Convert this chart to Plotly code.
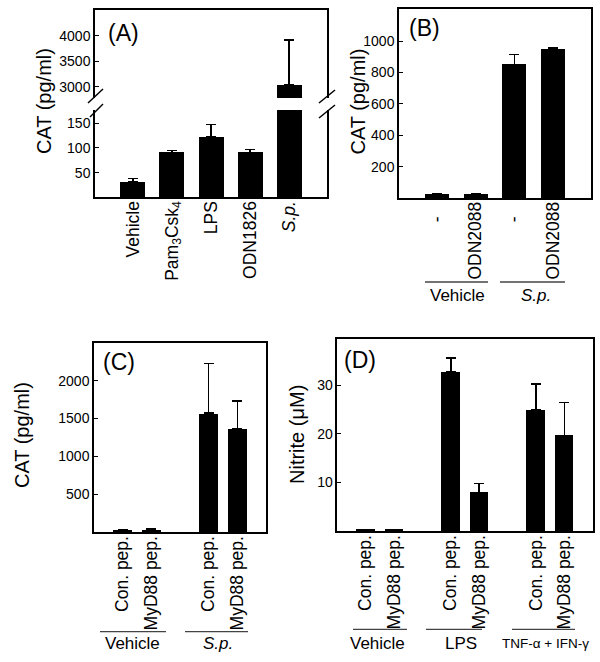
import plotly.graph_objects as go

# ---------------- data ----------------
a_labels = ["Vehicle", "Pam<sub>3</sub>Csk<sub>4</sub>", "LPS", "ODN1826", "<i>S.p.</i>"]
a_values = [32, 91, 122, 91, 3033]
a_errtop = [38.5, 94.5, 148, 97, 3920]

b_groups = ["Vehicle", "<i>S.p.</i>"]
b_labels = ["-\u00a0\u00a0\u00a0", "ODN2088", "-\u00a0\u00a0\u00a0", "ODN2088"]
b_values = [25, 25, 850, 948]
b_errtop = [27, 27, 915, 955]

c_groups = ["Vehicle", "<i>S.p.</i>"]
c_labels = ["Con. pep.", "MyD88 pep.", "Con. pep.", "MyD88 pep."]
c_values = [30, 30, 1570, 1372]
c_errtop = [40, 42, 2225, 1730]

d_groups = ["Vehicle", "LPS", "TNF-α + IFN-γ"]
d_labels = ["Con. pep.", "MyD88 pep.", "Con. pep.", "MyD88 pep.", "Con. pep.", "MyD88 pep."]
d_values = [0.3, 0.35, 32.7, 8.0, 24.9, 19.7]
d_errtop = [0.35, 0.4, 35.6, 9.8, 30.2, 26.4]

# ---------------- helpers ----------------
W, H = 600, 662
FONT = "Liberation Sans, Arial, sans-serif"


def px(x):
    return x / W


def py(y):
    return 1 - y / H


def positions(n_groups, per_group, gap=1):
    pos = []
    for g in range(n_groups):
        for i in range(per_group):
            pos.append(g * (per_group + gap) + i)
    return pos


def bar(x, vals, errtop, xa, ya, width):
    return go.Bar(
        x=x, y=vals, xaxis=xa, yaxis=ya, width=width,
        marker=dict(color="black", line=dict(width=0)),
        error_y=dict(type="data", symmetric=False,
                     array=[e - v for e, v in zip(errtop, vals)],
                     arrayminus=[0] * len(vals),
                     color="black", thickness=1.5, width=5),
        showlegend=False, hoverinfo="skip",
    )


fig = go.Figure()

a_x = list(range(len(a_labels)))
b_x = positions(2, 2, gap=0)
c_x = positions(2, 2)
d_x = positions(3, 2)

fig.add_trace(bar(a_x, a_values, a_errtop, "x", "y", 0.64))
fig.add_trace(bar(a_x, a_values, a_errtop, "x2", "y2", 0.64))
fig.add_trace(bar(b_x, b_values, b_errtop, "x3", "y3", 0.62))
fig.add_trace(bar(c_x, c_values, c_errtop, "x4", "y4", 0.65))
fig.add_trace(bar(d_x, d_values, d_errtop, "x5", "y5", 0.65))

axis_line = dict(showline=True, linecolor="black", linewidth=1.5, showgrid=False,
                 zeroline=False)
ytick = dict(ticks="inside", ticklen=4, tickwidth=1, tickcolor="black",
             tickfont=dict(family=FONT, size=14, color="black"))
xtick = dict(ticks="", tickangle=-90, ticklabelstandoff=-5,
             tickfont=dict(family=FONT, size=17.5, color="black"))

A_dom_x = [px(95), px(327)]
fig.update_layout(
    width=W, height=H, margin=dict(l=0, r=0, t=0, b=0),
    plot_bgcolor="white", paper_bgcolor="white", bargap=0,
    font=dict(family=FONT, color="black"),
    xaxis=dict(domain=A_dom_x, range=[-0.97, 4.97], anchor="y",
               tickvals=a_x, ticktext=a_labels, **axis_line, **xtick),
    yaxis=dict(domain=[py(197.3), py(110)], range=[0, 177], anchor="x",
               tickvals=[50, 100, 150], mirror=True, **axis_line, **ytick),
    xaxis2=dict(domain=A_dom_x, range=[-0.97, 4.97], anchor="y2", side="top",
                showticklabels=False, ticks="", matches="x", **axis_line),
    yaxis2=dict(domain=[py(98), py(10)], range=[2777, 4508], anchor="x2",
                tickvals=[3000, 3500, 4000], mirror=True, **axis_line, **ytick),
    xaxis3=dict(domain=[px(399), px(591)], range=[-0.98, 3.98], anchor="y3",
                tickvals=b_x, ticktext=b_labels, mirror=True, **axis_line, **xtick),
    yaxis3=dict(domain=[py(198), py(9.3)], range=[0, 1202], anchor="x3",
                tickvals=[200, 400, 600, 800, 1000], mirror=True, **axis_line, **ytick),
    xaxis4=dict(domain=[px(94), px(266)], range=[-1, 5], anchor="y4",
                tickvals=c_x, ticktext=c_labels, mirror=True, **axis_line, **xtick),
    yaxis4=dict(domain=[py(532.3), py(342.7)], range=[0, 2500], anchor="x4",
                tickvals=[500, 1000, 1500, 2000], mirror=True, **axis_line, **ytick),
    xaxis5=dict(domain=[px(337.3), px(592.7)], range=[-1, 8], anchor="y5",
                tickvals=d_x, ticktext=d_labels, mirror=True, **axis_line, **xtick),
    yaxis5=dict(domain=[py(531.3), py(339.3)], range=[0, 39.4], anchor="x5",
                tickvals=[10, 20, 30], mirror=True, **axis_line, **ytick),
)

ann = []


def text(x, y, s, size, angle=0, xanchor="center"):
    ann.append(dict(x=px(x), y=py(y), xref="paper", yref="paper", text=s,
                    showarrow=False, textangle=angle, xanchor=xanchor, yanchor="middle",
                    font=dict(family=FONT, size=size, color="black")))


# axis titles
text(44, 101, "CAT (pg/ml)", 20, -90)
text(357, 101.5, "CAT (pg/ml)", 20, -90)
text(22, 435, "CAT (pg/ml)", 20, -90)
text(297, 435, "Nitrite (μM)", 20, -90)

# panel labels
text(106, 33, "(A)", 23, xanchor="left")
text(407, 28, "(B)", 23, xanchor="left")
text(101, 362, "(C)", 23, xanchor="left")
text(342, 360, "(D)", 23, xanchor="left")

# group labels
text(457.5, 295, b_groups[0], 17)
text(536, 295, b_groups[1], 17)
text(132.5, 643, c_groups[0], 17)
text(217.5, 643, c_groups[1], 17)
text(377.5, 643, d_groups[0], 17)
text(460.8, 643, d_groups[1], 17)
text(545.5, 643, d_groups[2], 13.5)

shapes = []


def seg(x0, y0, x1, y1, color="black", w=1.5):
    shapes.append(dict(type="line", xref="paper", yref="paper",
                       x0=px(x0), y0=py(y0), x1=px(x1), y1=py(y1),
                       line=dict(color=color, width=w)))


for (x0, x1, y) in [(425, 488, 282), (500, 565, 282),
                    (100, 166, 631.7), (185, 248, 631.7),
                    (353, 407, 629.3), (426, 482, 629.3), (512, 575, 629.3)]:
    seg(x0, y, x1, y, color="#444444", w=1.3)

seg(88, 103, 103, 89)
seg(90, 117, 103, 104)
seg(319, 103, 335, 90)
seg(319, 118, 335, 105)

fig.update_layout(annotations=ann, shapes=shapes)
fig.write_html(
    "out.html",
    config={"displayModeBar": False},
    post_script="document.body.style.margin='0';document.body.style.overflow='hidden';"
                "window.dispatchEvent(new Event('resize'));",
)
